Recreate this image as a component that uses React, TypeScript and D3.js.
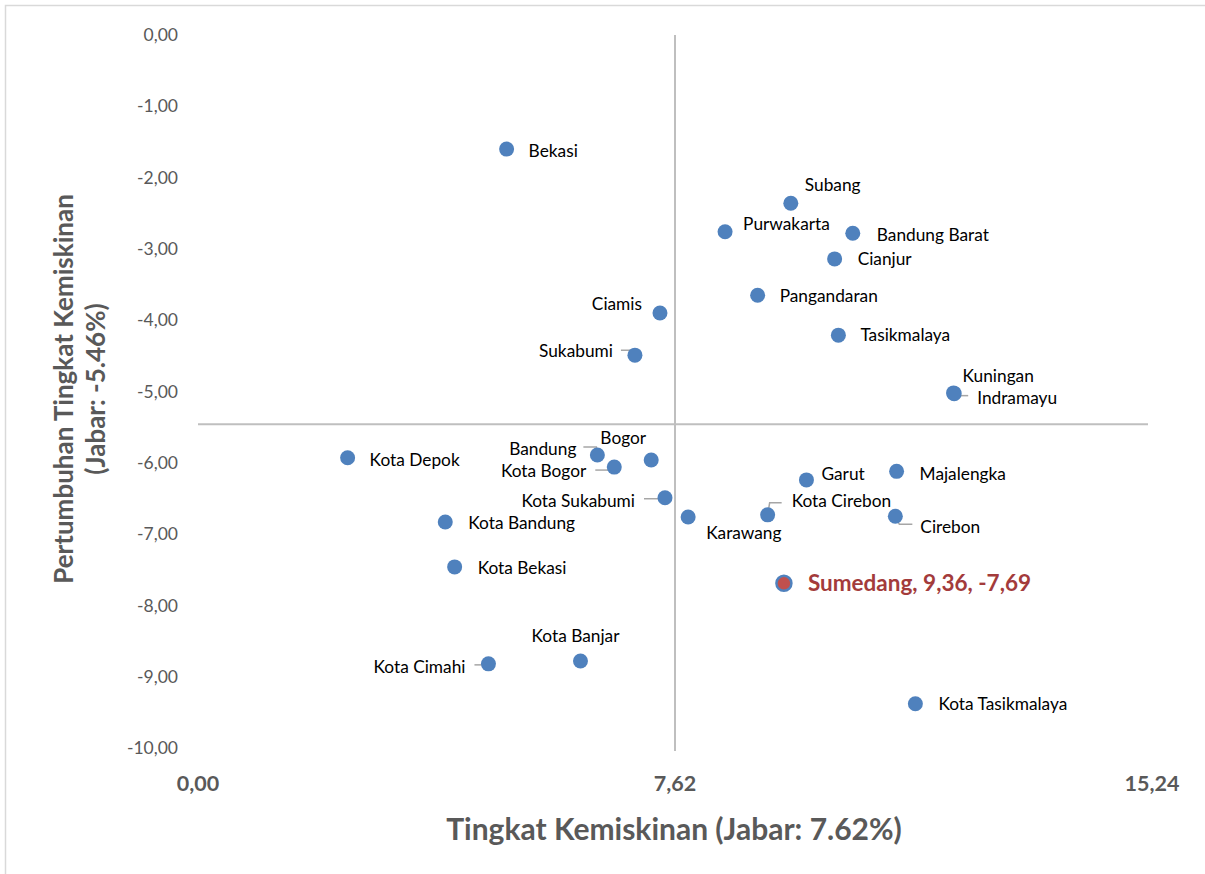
import React from "react";
import * as d3 from "d3";

// ---- data ----
const names = [
  "Bekasi", "Subang", "Purwakarta", "Bandung Barat", "Cianjur", "Pangandaran", "Ciamis",
  "Tasikmalaya", "Sukabumi", "Kuningan", "Indramayu", "Kota Depok", "Bandung", "Bogor",
  "Kota Bogor", "Kota Sukabumi", "Karawang", "Garut", "Majalengka", "Kota Cirebon", "Cirebon",
  "Kota Bandung", "Kota Bekasi", "Sumedang", "Kota Banjar", "Kota Cimahi", "Kota Tasikmalaya",
];
const povertyRate = [
  4.93, 9.47, 8.42, 10.46, 10.17, 8.94, 7.38,
  10.23, 6.98, 12.07, 12.08, 2.39, 6.38, 7.24,
  6.65, 7.46, 7.83, 9.72, 11.16, 9.10, 11.14,
  3.95, 4.10, 9.36, 6.11, 4.64, 11.46,
];
const povertyGrowth = [
  -1.60, -2.36, -2.76, -2.78, -3.14, -3.65, -3.90,
  -4.21, -4.49, -5.02, -5.03, -5.93, -5.89, -5.96,
  -6.06, -6.49, -6.76, -6.24, -6.12, -6.73, -6.75,
  -6.83, -7.46, -7.69, -8.78, -8.82, -9.38,
];
const highlight = "Sumedang";
const jabarRate = 7.62;
const jabarGrowth = -5.46;
const xTicks = [0, 7.62, 15.24];
const yTicks = [0, -1, -2, -3, -4, -5, -6, -7, -8, -9, -10];
const xTitle = "Tingkat Kemiskinan (Jabar: 7.62%)";
const yTitle1 = "Pertumbuhan Tingkat Kemiskinan";
const yTitle2 = "(Jabar: -5.46%)";

// ---- label layout (pixel offsets from point) ----
type Lay = { dx: number; dy: number; a: "start" | "end" | "middle"; leader?: number[][] };
const layout: Record<string, Lay> = {
  "Bekasi": { dx: 22, dy: 2, a: "start" },
  "Subang": { dx: 14, dy: -18, a: "start" },
  "Purwakarta": { dx: 18, dy: -8, a: "start" },
  "Bandung Barat": { dx: 24, dy: 2, a: "start" },
  "Cianjur": { dx: 23, dy: 0, a: "start" },
  "Pangandaran": { dx: 22, dy: 1, a: "start" },
  "Ciamis": { dx: -18, dy: -9, a: "end" },
  "Tasikmalaya": { dx: 22, dy: 0, a: "start" },
  "Sukabumi": { dx: -22, dy: -4, a: "end", leader: [[-14, -5], [-2, -5], [0, 0]] },
  "Kuningan": { dx: 9, dy: -17, a: "start" },
  "Indramayu": { dx: 23, dy: 4, a: "start", leader: [[0, 2], [14, 2]] },
  "Kota Depok": { dx: 22, dy: 2, a: "start" },
  "Bandung": { dx: -21, dy: -6, a: "end", leader: [[-14, -8], [-1, -8], [0, 0]] },
  "Bogor": { dx: -28, dy: -22, a: "middle" },
  "Kota Bogor": { dx: -28, dy: 4, a: "end", leader: [[-19, 3], [-3, 3]] },
  "Kota Sukabumi": { dx: -30, dy: 3, a: "end", leader: [[-21, 1], [-4, 1]] },
  "Karawang": { dx: 18, dy: 16, a: "start" },
  "Garut": { dx: 15, dy: -6, a: "start" },
  "Majalengka": { dx: 23, dy: 3, a: "start" },
  "Kota Cirebon": { dx: 24, dy: -14, a: "start", leader: [[0, 0], [2, -12], [14, -12]] },
  "Cirebon": { dx: 25, dy: 11, a: "start", leader: [[1, 2], [4, 8], [17, 8]] },
  "Kota Bandung": { dx: 23, dy: 1, a: "start" },
  "Kota Bekasi": { dx: 23, dy: 1, a: "start" },
  "Sumedang": { dx: 24, dy: 0, a: "start" },
  "Kota Banjar": { dx: -5, dy: -25, a: "middle" },
  "Kota Cimahi": { dx: -23, dy: 3, a: "end", leader: [[-14, 1], [-2, 1]] },
  "Kota Tasikmalaya": { dx: 23, dy: 0, a: "start" },
};

const W = 1205;
const H = 874;
const FONT = "Lato, 'Open Sans', sans-serif";
const fmt = (v: number) => v.toFixed(2).replace(".", ",");

export default function App() {
  const x = d3.scaleLinear().domain([0, 15.24]).range([198, 1152]);
  const y = d3.scaleLinear().domain([-10, 0]).range([748, 35]);
  const pts = names.map((n, i) => ({ n, px: x(povertyRate[i]), py: y(povertyGrowth[i]), v: [povertyRate[i], povertyGrowth[i]] }));
  const line = d3.line();
  return (
    <svg width={W} height={H} style={{ position: "absolute", left: 0, top: 0, background: "#fff" }} fontFamily={FONT}>
      <rect x={5.5} y={5.5} width={W + 10} height={H + 10} fill="#fff" stroke="#d9d9d9" strokeWidth={1.5} />
      {/* quadrant lines */}
      <line x1={x(jabarRate)} x2={x(jabarRate)} y1={y(0)} y2={y(-10) + 3} stroke="#bfbfbf" strokeWidth={2} />
      <line x1={x(0)} x2={x(15.24) - 4} y1={y(jabarGrowth)} y2={y(jabarGrowth)} stroke="#bfbfbf" strokeWidth={2} />
      {/* y ticks */}
      {yTicks.map((t) => (
        <text key={t} x={178} y={y(t)} dy="0.35em" textAnchor="end" fontSize={17.5} fill="#595959">
          {fmt(t)}
        </text>
      ))}
      {/* x ticks */}
      {xTicks.map((t) => (
        <text key={t} x={x(t)} y={783} dy="0.35em" textAnchor="middle" fontSize={21.5} fontWeight="bold" fill="#595959">
          {fmt(t)}
        </text>
      ))}
      {/* axis titles */}
      <text x={674} y={829} dy="0.35em" textAnchor="middle" fontSize={30} fontWeight="bold" fill="#595959">
        {xTitle}
      </text>
      <g transform="translate(64,389) rotate(-90)">
        <text x={0} y={0} dy="0.35em" textAnchor="middle" fontSize={26} fontWeight="bold" fill="#595959">
          {yTitle1}
        </text>
        <text x={0} y={32} dy="0.35em" textAnchor="middle" fontSize={26} fontWeight="bold" fill="#595959">
          {yTitle2}
        </text>
      </g>
      {/* leaders */}
      {pts.map((p) => {
        const l = layout[p.n];
        if (!l || !l.leader) return null;
        const path = line(l.leader.map(([a, b]) => [p.px + a, p.py + b] as [number, number]));
        return <path key={"l" + p.n} d={path || ""} fill="none" stroke="#a6a6a6" strokeWidth={1.5} />;
      })}
      {/* points */}
      {pts.map((p) => (
        <circle key={"c" + p.n} cx={p.px} cy={p.py} r={7.5}
          fill={p.n === highlight ? "#C0504D" : "#4F81BD"}
          stroke={p.n === highlight ? "#4F81BD" : "none"} strokeWidth={2.5} />
      ))}
      {/* labels */}
      {pts.map((p) => {
        const l = layout[p.n];
        const hi = p.n === highlight;
        return (
          <text key={"t" + p.n} x={p.px + l.dx} y={p.py + l.dy} dy="0.35em" textAnchor={l.a}
            fontSize={hi ? 22.5 : 17.3} fontWeight={hi ? "bold" : "normal"} fill={hi ? "#A33B3B" : "#000"}>
            {hi ? `${p.n}, ${fmt(p.v[0])}, ${fmt(p.v[1])}` : p.n}
          </text>
        );
      })}
    </svg>
  );
}
